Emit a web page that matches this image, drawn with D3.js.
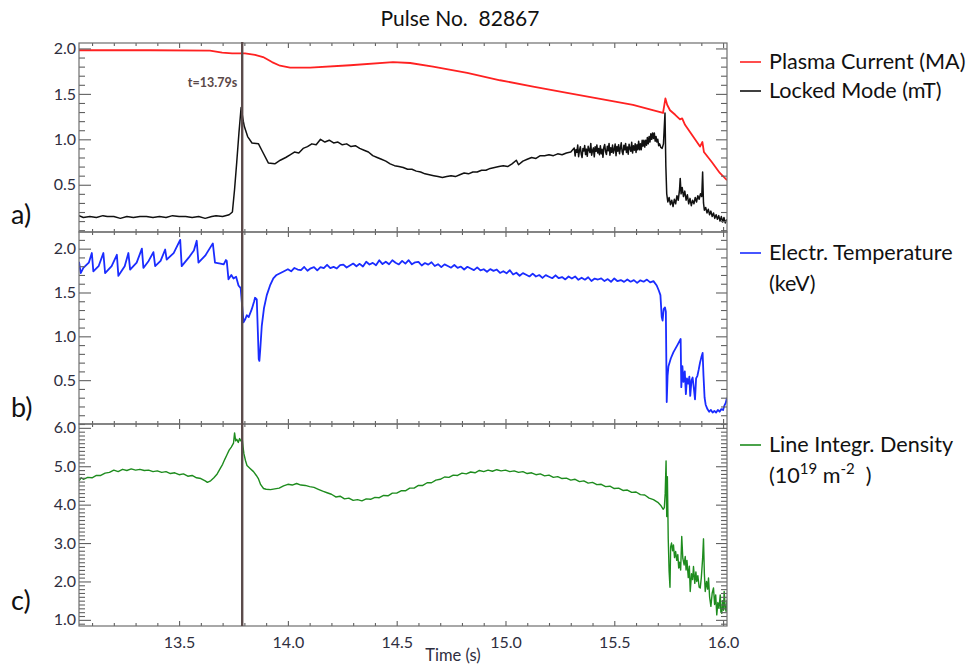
<!DOCTYPE html>
<html>
<head>
<meta charset="utf-8">
<script src="https://cdn.jsdelivr.net/npm/d3@7/dist/d3.min.js"></script>
<style>
  html, body { margin: 0; padding: 0; background: #fff; }
  svg { display: block; font-family: Lato, "Open Sans", sans-serif; }
</style>
</head>
<body>
<svg id="chart" width="972" height="666"></svg>
<script>
// ---- signals of pulse 82867, [time (s), value] ----
const plasmaCurrent = [
  [13.040,1.98],[13.367,1.98],[13.642,1.975],[13.698,1.955],[13.744,1.945],[13.803,1.945],
  [13.849,1.93],[13.886,1.905],[13.927,1.85],[13.964,1.81],[14.010,1.79],[14.102,1.79],
  [14.286,1.815],[14.483,1.85],[14.562,1.84],[14.667,1.80],[14.824,1.73],[14.975,1.65],
  [15.127,1.58],[15.283,1.51],[15.435,1.445],[15.586,1.38],[15.724,1.29],[15.735,1.45],
  [15.743,1.38],[15.756,1.32],[15.780,1.27],[15.802,1.22],[15.812,1.23],[15.825,1.16],
  [15.848,1.08],[15.871,1.00],[15.894,0.92],[15.905,0.97],[15.912,0.86],[15.948,0.75],
  [15.985,0.63],[16.018,0.55]
];

const lockedMode = [
  [13.04,0.16],[13.06,0.14],[13.09,0.15],[13.12,0.14],[13.15,0.16],[13.17,0.15],[13.20,0.15],
  [13.23,0.13],[13.26,0.15],[13.29,0.14],[13.32,0.15],[13.35,0.15],[13.38,0.14],[13.41,0.15],
  [13.44,0.14],[13.47,0.16],[13.50,0.15],[13.53,0.15],[13.56,0.14],[13.59,0.15],[13.62,0.13],
  [13.65,0.15],[13.67,0.16],[13.70,0.15],[13.73,0.17],[13.745,0.20],[13.755,0.45],[13.765,0.75],
  [13.775,1.07],[13.785,1.35],[13.795,1.20],[13.80,1.14],[13.815,1.03],[13.835,0.96],
  [13.865,0.95],[13.88,0.88],[13.91,0.74],[13.94,0.73],[13.965,0.77],[13.99,0.80],
  [14.01,0.83],[14.03,0.86],[14.05,0.85],[14.07,0.90],[14.09,0.92],[14.11,0.95],[14.13,0.94],
  [14.15,1.00],[14.17,0.97],[14.19,0.99],[14.21,0.96],[14.23,0.97],[14.25,0.94],[14.27,0.95],
  [14.29,0.92],[14.31,0.93],[14.33,0.90],[14.35,0.88],[14.37,0.86],[14.39,0.82],[14.41,0.80],
  [14.43,0.78],[14.45,0.76],[14.47,0.73],[14.49,0.71],[14.51,0.70],[14.53,0.69],[14.55,0.67],
  [14.57,0.67],[14.59,0.65],[14.61,0.64],[14.63,0.62],[14.65,0.61],[14.67,0.60],[14.69,0.59],
  [14.71,0.58],[14.73,0.59],[14.75,0.60],[14.77,0.59],[14.79,0.61],[14.81,0.63],[14.83,0.62],
  [14.85,0.64],[14.87,0.64],[14.89,0.66],[14.91,0.66],[14.93,0.68],[14.95,0.69],[14.97,0.70],
  [14.99,0.71],[15.01,0.70],[15.03,0.73],[15.05,0.77],[15.06,0.72],[15.08,0.76],[15.10,0.78],
  [15.12,0.80],[15.14,0.79],[15.16,0.82],[15.18,0.82],[15.20,0.83],[15.22,0.82],[15.24,0.84],
  [15.26,0.83],[15.28,0.85],[15.30,0.86],
  [15.316,0.905],[15.320,0.816],[15.324,0.886],[15.328,0.857],[15.332,0.937],[15.336,0.808],
  [15.340,0.878],[15.344,0.919],[15.348,0.839],[15.352,0.800],[15.356,0.900],[15.360,0.871],
  [15.364,0.931],[15.368,0.832],[15.372,0.892],[15.376,0.813],[15.380,0.923],[15.384,0.884],
  [15.388,0.854],[15.392,0.955],[15.396,0.825],[15.400,0.876],[15.404,0.906],[15.408,0.807],
  [15.412,0.917],[15.416,0.868],[15.420,0.938],[15.424,0.849],[15.428,0.899],[15.432,0.830],
  [15.436,0.930],[15.440,0.841],[15.444,0.891],[15.448,0.802],[15.452,0.912],[15.456,0.943],
  [15.460,0.863],[15.464,0.834],[15.468,0.924],[15.472,0.875],[15.476,0.955],[15.480,0.826],
  [15.484,0.906],[15.488,0.857],[15.492,0.937],[15.496,0.848],[15.500,0.888],[15.504,0.949],
  [15.508,0.819],[15.512,0.920],[15.516,0.870],[15.520,0.941],[15.524,0.841],[15.528,0.902],
  [15.532,0.962],[15.536,0.863],[15.540,0.833],[15.544,0.934],[15.548,0.884],[15.552,0.955],
  [15.556,0.855],[15.560,0.916],[15.564,0.836],[15.568,0.947],[15.572,0.897],[15.576,0.868],
  [15.580,0.968],[15.584,0.849],[15.588,0.929],[15.592,0.880],[15.596,0.950],[15.600,0.855],
  [15.604,0.940],[15.608,0.885],[15.612,0.980],[15.616,0.885],[15.620,0.950],[15.624,0.885],
  [15.628,0.990],[15.632,0.925],[15.636,0.990],[15.640,0.915],[15.644,0.990],[15.648,0.935],
  [15.652,1.020],[15.656,0.950],[15.660,1.030],[15.664,0.970],[15.668,1.060],[15.672,1.000],
  [15.676,1.070],[15.680,1.010],[15.684,1.070],[15.688,0.980],[15.692,1.030],[15.696,0.970],
  [15.700,1.000],[15.704,0.930],[15.708,0.950],[15.714,0.910],[15.720,0.900],[15.726,0.950],
  [15.733,1.29],[15.737,0.70],[15.741,0.40],[15.746,0.31],
  [15.752,0.36],[15.758,0.28],[15.764,0.33],[15.770,0.26],[15.776,0.34],[15.782,0.29],
  [15.788,0.38],[15.794,0.33],[15.800,0.45],[15.803,0.57],[15.807,0.40],[15.812,0.47],
  [15.818,0.37],[15.824,0.43],[15.830,0.33],[15.836,0.39],[15.842,0.29],[15.848,0.35],
  [15.854,0.27],[15.860,0.33],[15.866,0.29],[15.872,0.36],[15.878,0.31],[15.884,0.38],
  [15.890,0.34],[15.896,0.40],[15.902,0.37],[15.906,0.64],[15.910,0.30],[15.914,0.22],
  [15.920,0.25],[15.926,0.19],[15.932,0.23],[15.938,0.17],[15.944,0.21],[15.950,0.15],
  [15.956,0.19],[15.962,0.13],[15.968,0.17],[15.974,0.12],[15.980,0.16],[15.986,0.10],
  [15.992,0.15],[15.998,0.09],[16.004,0.14],[16.010,0.08],[16.018,0.12]
];

const electronTemp = [
  [13.040,1.85],[13.048,1.72],[13.060,1.78],[13.085,1.84],[13.099,1.95],[13.106,1.74],
  [13.130,1.80],[13.152,1.95],[13.160,1.72],[13.190,1.80],[13.214,1.93],[13.221,1.69],
  [13.250,1.80],[13.267,1.95],[13.275,1.76],[13.305,1.84],[13.329,2.00],[13.336,1.78],
  [13.360,1.86],[13.382,1.96],[13.390,1.80],[13.415,1.86],[13.436,1.99],[13.443,1.875],
  [13.475,1.95],[13.505,2.10],[13.512,1.80],[13.545,1.90],[13.568,1.98],[13.581,2.09],
  [13.589,1.84],[13.620,1.92],[13.655,2.06],[13.665,1.84],[13.690,1.83],[13.705,1.82],
  [13.715,1.87],[13.719,1.86],[13.727,1.65],[13.740,1.70],[13.750,1.66],[13.762,1.68],
  [13.773,1.58],[13.783,1.55],[13.796,1.16],[13.805,1.20],[13.811,1.24],[13.820,1.22],
  [13.834,1.31],[13.845,1.40],[13.849,1.44],[13.857,1.42],[13.862,1.05],[13.866,0.74],
  [13.869,0.72],[13.873,0.85],[13.880,1.12],[13.890,1.32],[13.903,1.47],[13.918,1.58],
  [13.933,1.66],[13.948,1.70],[13.964,1.72],[13.980,1.74],
  [14.000,1.765],[14.015,1.742],[14.030,1.780],[14.045,1.762],[14.060,1.754],[14.075,1.791],
  [14.090,1.748],[14.105,1.776],[14.120,1.789],[14.135,1.752],[14.150,1.790],[14.165,1.778],
  [14.180,1.816],[14.195,1.779],[14.210,1.792],[14.225,1.774],[14.240,1.811],[14.255,1.818],
  [14.270,1.785],[14.285,1.808],[14.300,1.830],[14.315,1.799],[14.330,1.827],[14.345,1.796],
  [14.360,1.850],[14.375,1.819],[14.390,1.838],[14.405,1.810],[14.420,1.867],[14.435,1.824],
  [14.450,1.851],[14.465,1.822],[14.480,1.868],[14.495,1.840],[14.510,1.820],[14.525,1.860],
  [14.540,1.829],[14.555,1.868],[14.570,1.821],[14.585,1.844],[14.600,1.850],[14.615,1.808],
  [14.630,1.836],[14.645,1.818],[14.660,1.845],[14.675,1.802],[14.690,1.823],[14.705,1.789],
  [14.720,1.821],[14.735,1.802],[14.750,1.783],[14.765,1.814],[14.780,1.780],[14.795,1.796],
  [14.810,1.762],[14.825,1.793],[14.840,1.774],[14.855,1.755],[14.870,1.787],[14.885,1.753],
  [14.900,1.765],[14.915,1.736],[14.930,1.766],[14.945,1.747],[14.960,1.762],[14.975,1.723],
  [14.990,1.743],[15.005,1.719],[15.020,1.754],[15.035,1.705],[15.050,1.725],[15.065,1.691],
  [15.080,1.721],[15.095,1.702],[15.110,1.683],[15.125,1.715],[15.140,1.682],[15.155,1.699],
  [15.170,1.666],[15.185,1.698],[15.200,1.680],[15.215,1.663],[15.230,1.696],[15.245,1.663],
  [15.260,1.676],[15.275,1.649],[15.290,1.682],[15.305,1.660],[15.320,1.683],[15.335,1.645],
  [15.350,1.668],[15.365,1.646],[15.380,1.674],[15.395,1.631],[15.410,1.659],[15.425,1.648],
  [15.440,1.661],[15.455,1.630],[15.470,1.653],[15.485,1.622],[15.500,1.660],[15.515,1.629],
  [15.530,1.642],[15.545,1.621],[15.560,1.649],[15.575,1.623],[15.590,1.641],[15.605,1.610],
  [15.620,1.639],[15.635,1.623],[15.650,1.647],[15.665,1.616],[15.680,1.630],
  [15.695,1.58],[15.705,1.52],[15.712,1.47],[15.718,1.22],[15.722,1.18],
  [15.727,1.31],[15.733,1.33],[15.737,1.28],[15.741,0.25],[15.745,0.55],[15.749,0.66],
  [15.760,0.75],[15.772,0.82],[15.790,0.90],[15.805,0.97],[15.808,0.42],[15.813,0.66],
  [15.818,0.48],[15.824,0.60],[15.829,0.34],[15.834,0.52],[15.840,0.46],[15.845,0.54],
  [15.849,0.32],[15.855,0.50],[15.860,0.53],[15.866,0.40],[15.871,0.28],[15.876,0.52],
  [15.882,0.55],[15.888,0.62],[15.894,0.70],[15.900,0.76],[15.906,0.81],[15.910,0.55],
  [15.915,0.30],[15.920,0.22],[15.928,0.17],[15.936,0.14],[15.944,0.16],[15.952,0.13],
  [15.960,0.15],[15.968,0.13],[15.976,0.16],[15.984,0.14],[15.992,0.17],[16.000,0.16],
  [16.006,0.21],[16.012,0.24],[16.018,0.30]
];

const lineDensity = [
  [13.04,4.62],[13.05,4.70],[13.06,4.66],[13.08,4.71],[13.10,4.70],[13.12,4.76],[13.14,4.76],
  [13.16,4.82],[13.18,4.84],[13.20,4.90],[13.22,4.86],[13.24,4.92],[13.26,4.89],[13.28,4.93],
  [13.30,4.90],[13.32,4.92],[13.34,4.89],[13.36,4.90],[13.38,4.86],[13.40,4.88],[13.42,4.84],
  [13.44,4.86],[13.46,4.81],[13.48,4.83],[13.50,4.78],[13.52,4.80],[13.54,4.74],[13.56,4.76],
  [13.58,4.70],[13.60,4.68],[13.62,4.62],[13.63,4.58],[13.645,4.62],[13.66,4.70],[13.675,4.80],
  [13.69,4.95],[13.70,5.05],[13.71,5.18],[13.72,5.30],[13.73,5.42],[13.74,5.50],[13.75,5.60],
  [13.755,5.87],[13.76,5.66],[13.765,5.70],[13.772,5.62],[13.778,5.72],[13.784,5.66],
  [13.790,5.72],[13.794,5.50],[13.798,5.32],[13.805,5.15],[13.812,5.02],[13.825,4.95],
  [13.842,4.86],[13.855,4.76],[13.865,4.67],[13.875,4.52],[13.888,4.42],[13.90,4.40],
  [13.92,4.39],[13.94,4.41],[13.96,4.43],[13.98,4.49],[14.00,4.53],[14.02,4.51],[14.04,4.55],
  [14.06,4.51],[14.08,4.50],[14.10,4.47],[14.12,4.45],[14.14,4.40],[14.16,4.35],[14.18,4.31],
  [14.20,4.27],[14.22,4.20],[14.24,4.22],[14.26,4.15],[14.28,4.17],[14.30,4.11],[14.32,4.13],
  [14.34,4.10],[14.36,4.15],[14.38,4.14],[14.40,4.19],[14.42,4.18],[14.44,4.24],[14.46,4.23],
  [14.48,4.30],[14.50,4.30],[14.52,4.36],[14.54,4.36],[14.56,4.43],[14.58,4.43],[14.60,4.50],
  [14.62,4.50],[14.64,4.57],[14.66,4.57],[14.68,4.64],[14.70,4.66],[14.72,4.72],[14.74,4.71],
  [14.76,4.77],[14.78,4.76],[14.80,4.82],[14.82,4.80],[14.84,4.85],[14.86,4.83],[14.88,4.89],
  [14.90,4.86],[14.92,4.90],[14.94,4.87],[14.96,4.91],[14.98,4.88],[15.00,4.90],[15.02,4.86],
  [15.04,4.88],[15.06,4.84],[15.08,4.86],[15.10,4.81],[15.12,4.83],[15.14,4.78],[15.16,4.80],
  [15.18,4.75],[15.20,4.77],[15.22,4.71],[15.24,4.73],[15.26,4.68],[15.28,4.69],[15.30,4.64],
  [15.32,4.66],[15.34,4.60],[15.36,4.62],[15.38,4.56],[15.40,4.58],[15.42,4.52],[15.44,4.53],
  [15.46,4.47],[15.48,4.48],[15.50,4.42],[15.52,4.43],[15.54,4.37],[15.56,4.38],[15.58,4.32],
  [15.60,4.33],[15.62,4.26],[15.64,4.25],[15.66,4.17],[15.68,4.13],[15.70,4.06],[15.715,3.97],
  [15.725,3.88],[15.730,3.92],[15.734,4.30],[15.738,5.14],[15.741,3.69],[15.744,4.73],
  [15.748,3.10],[15.752,2.26],[15.756,1.85],[15.759,2.90],[15.763,3.00],[15.768,2.80],
  [15.772,2.95],[15.777,2.62],[15.782,2.78],[15.787,2.55],[15.792,2.70],[15.796,2.35],
  [15.800,2.50],[15.805,2.30],[15.810,3.17],[15.815,2.60],[15.821,2.43],[15.826,2.65],
  [15.830,2.30],[15.834,2.55],[15.840,2.10],[15.845,2.40],[15.849,1.74],[15.855,2.20],
  [15.860,2.05],[15.864,2.39],[15.870,1.95],[15.875,2.25],[15.879,2.00],[15.884,2.15],
  [15.890,1.85],[15.895,1.83],[15.900,2.10],[15.906,2.60],[15.910,3.11],[15.914,2.20],
  [15.918,1.74],[15.924,2.00],[15.929,1.80],[15.933,2.09],[15.938,1.60],[15.944,1.35],
  [15.950,1.70],[15.956,1.83],[15.961,1.40],[15.966,1.65],[15.971,1.13],[15.976,1.45],
  [15.981,1.30],[15.987,1.65],[15.990,1.20],[15.994,1.17],[15.998,1.50],[16.002,1.25],
  [16.005,1.74],[16.010,1.30],[16.014,1.22],[16.018,1.52]
];

// axis ticks
const timeTicks = [13.5, 14.0, 14.5, 15.0, 15.5, 16.0];
const ticksA = [0.5, 1.0, 1.5, 2.0];
const ticksB = [0.5, 1.0, 1.5, 2.0];
const ticksC = [1.0, 2.0, 3.0, 4.0, 5.0, 6.0];
const markerTime = 13.79;
const title = "Pulse No.  82867";

// ---- layout ----
const svg = d3.select("#chart");
const left = 79, right = 727;
const x = d3.scaleLinear().domain([13.04, 16.018]).range([left, right]);

const panels = [
  { id: "a", top: 43, bottom: 232, domain: [-0.02, 2.06], major: ticksA, minorStep: 0.1,
    minorFrom: 0.0, minorTo: 2.0,
    series: [{ data: plasmaCurrent, color: "#ff2121", width: 1.8 },
             { data: lockedMode, color: "#111111", width: 1.5 }] },
  { id: "b", top: 232, bottom: 424, domain: [0.0, 2.19], major: ticksB, minorStep: 0.1,
    minorFrom: 0.1, minorTo: 2.1,
    series: [{ data: electronTemp, color: "#1a2cff", width: 1.8 }] },
  { id: "c", top: 424, bottom: 626, domain: [0.84, 6.1], major: ticksC, minorStep: 0.1,
    minorFrom: 0.9, minorTo: 6.1,
    series: [{ data: lineDensity, color: "#1e8c1e", width: 1.4 }] }
];

const frameColor = "#6e6e6e";
const labelColor = "#2e2e3e";
const fmt = d3.format(".1f");

const minorTimes = d3.range(131, 161).map(d => d / 10).filter(d => !timeTicks.some(t => Math.abs(t - d) < 1e-6));

panels.forEach(p => {
  const y = d3.scaleLinear().domain(p.domain).range([p.bottom, p.top]);
  p.y = y;
  const g = svg.append("g").attr("class", "panel-" + p.id);

  // clip for the traces
  const clipId = "clip-" + p.id;
  svg.append("clipPath").attr("id", clipId)
    .append("rect").attr("x", left).attr("y", p.top).attr("width", right - left).attr("height", p.bottom - p.top);

  const line = d3.line().x(d => x(d[0])).y(d => y(d[1]));
  p.series.forEach(s => {
    g.append("path").datum(s.data)
      .attr("clip-path", `url(#${clipId})`)
      .attr("d", line)
      .attr("fill", "none")
      .attr("stroke", s.color)
      .attr("stroke-width", s.width)
      .attr("stroke-linejoin", "round");
  });

  const minorVals = d3.range(Math.round(p.minorFrom / p.minorStep), Math.round(p.minorTo / p.minorStep) + 1)
    .map(d => +(d * p.minorStep).toFixed(2))
    .filter(v => !p.major.some(m => Math.abs(m - v) < 1e-6) && v >= p.domain[0] && v <= p.domain[1]);

  // left axis: labelled majors, inside ticks
  g.append("g").attr("transform", `translate(${left},0)`)
    .call(d3.axisLeft(y).tickValues(p.major).tickFormat(fmt).tickSizeInner(-12).tickSizeOuter(0).tickPadding(3));
  g.append("g").attr("transform", `translate(${left},0)`)
    .call(d3.axisLeft(y).tickValues(minorVals).tickFormat("").tickSizeInner(-6).tickSizeOuter(0));

  // right axis: ticks only
  g.append("g").attr("transform", `translate(${right},0)`)
    .call(d3.axisRight(y).tickValues(p.major).tickFormat("").tickSizeInner(-11).tickSizeOuter(0));
  g.append("g").attr("transform", `translate(${right},0)`)
    .call(d3.axisRight(y).tickValues(minorVals).tickFormat("").tickSizeInner(-6).tickSizeOuter(0));

  // top and bottom time ticks
  g.append("g").attr("transform", `translate(0,${p.top})`)
    .call(d3.axisTop(x).tickValues(timeTicks).tickFormat("").tickSizeInner(-5).tickSizeOuter(0));
  g.append("g").attr("transform", `translate(0,${p.top})`)
    .call(d3.axisTop(x).tickValues(minorTimes).tickFormat("").tickSizeInner(-3).tickSizeOuter(0));
  const bottomMajor = d3.axisBottom(x).tickValues(timeTicks).tickSizeInner(-5).tickSizeOuter(0).tickPadding(11)
    .tickFormat(p.id === "c" ? fmt : "");
  g.append("g").attr("class", "xlab").attr("transform", `translate(0,${p.bottom})`).call(bottomMajor);
  g.append("g").attr("transform", `translate(0,${p.bottom})`)
    .call(d3.axisBottom(x).tickValues(minorTimes).tickFormat("").tickSizeInner(-3).tickSizeOuter(0));

  // frame
  g.append("rect").attr("x", left).attr("y", p.top).attr("width", right - left).attr("height", p.bottom - p.top)
    .attr("fill", "none").attr("stroke", frameColor).attr("stroke-width", 1.2);
});

svg.selectAll(".domain").remove();
svg.selectAll(".tick line").attr("stroke", "#606060").attr("stroke-width", 1.1);
svg.selectAll(".tick text").attr("fill", labelColor).style("font-size", "16px").style("font-family", "Lato, sans-serif");

// marker line at the locked-mode onset
svg.append("line")
  .attr("x1", x(markerTime)).attr("x2", x(markerTime))
  .attr("y1", panels[0].top - 1).attr("y2", panels[2].bottom)
  .attr("stroke", "#5b4b4b").attr("stroke-width", 2.4);
svg.append("text")
  .attr("x", x(markerTime) - 5).attr("y", 87)
  .attr("text-anchor", "end")
  .attr("fill", "#5a4848")
  .style("font-size", "12.5px").style("font-weight", "bold")
  .text("t=" + markerTime + "s");

// title and axis label
svg.append("text").attr("x", 460).attr("y", 26).attr("text-anchor", "middle")
  .attr("fill", "#111").style("font-size", "21px").style("white-space", "pre").text(title);
svg.append("text").attr("x", 453).attr("y", 661).attr("text-anchor", "middle")
  .attr("fill", labelColor).style("font-size", "16.5px").text("Time (s)");

// panel letters
[["a)", 224], ["b)", 417], ["c)", 610]].forEach(([t, yy]) => {
  svg.append("text").attr("x", 11).attr("y", yy).attr("fill", "#111")
    .style("font-size", "27px").text(t);
});

// legends
const legendSize = "21.6px";
const legend = [
  { color: "#ff2121", y: 62, lines: ["Plasma Current (MA)"] },
  { color: "#111111", y: 91, lines: ["Locked Mode (mT)"] },
  { color: "#1a2cff", y: 253, lines: ["Electr. Temperature", "(keV)"] },
  { color: "#1e8c1e", y: 445, lines: null }
];
legend.forEach(l => {
  svg.append("line").attr("x1", 740).attr("x2", 761).attr("y1", l.y).attr("y2", l.y)
    .attr("stroke", l.color).attr("stroke-width", 1.6);
  if (l.lines) {
    l.lines.forEach((s, i) => {
      svg.append("text").attr("x", 769).attr("y", l.y + 7 + i * 31)
        .attr("fill", "#111").style("font-size", legendSize).text(s);
    });
  }
});
svg.append("text").attr("x", 769).attr("y", 452).attr("fill", "#111").style("font-size", legendSize)
  .text("Line Integr. Density");
const unit = svg.append("text").attr("x", 769).attr("y", 483).attr("fill", "#111")
  .style("font-size", legendSize).style("white-space", "pre");
unit.append("tspan").text("(10");
unit.append("tspan").attr("dy", -9).style("font-size", "15px").text("19");
unit.append("tspan").attr("dy", 9).text(" m");
unit.append("tspan").attr("dy", -9).style("font-size", "15px").text("-2");
unit.append("tspan").attr("dy", 9).text("  )");
</script>
</body>
</html>
